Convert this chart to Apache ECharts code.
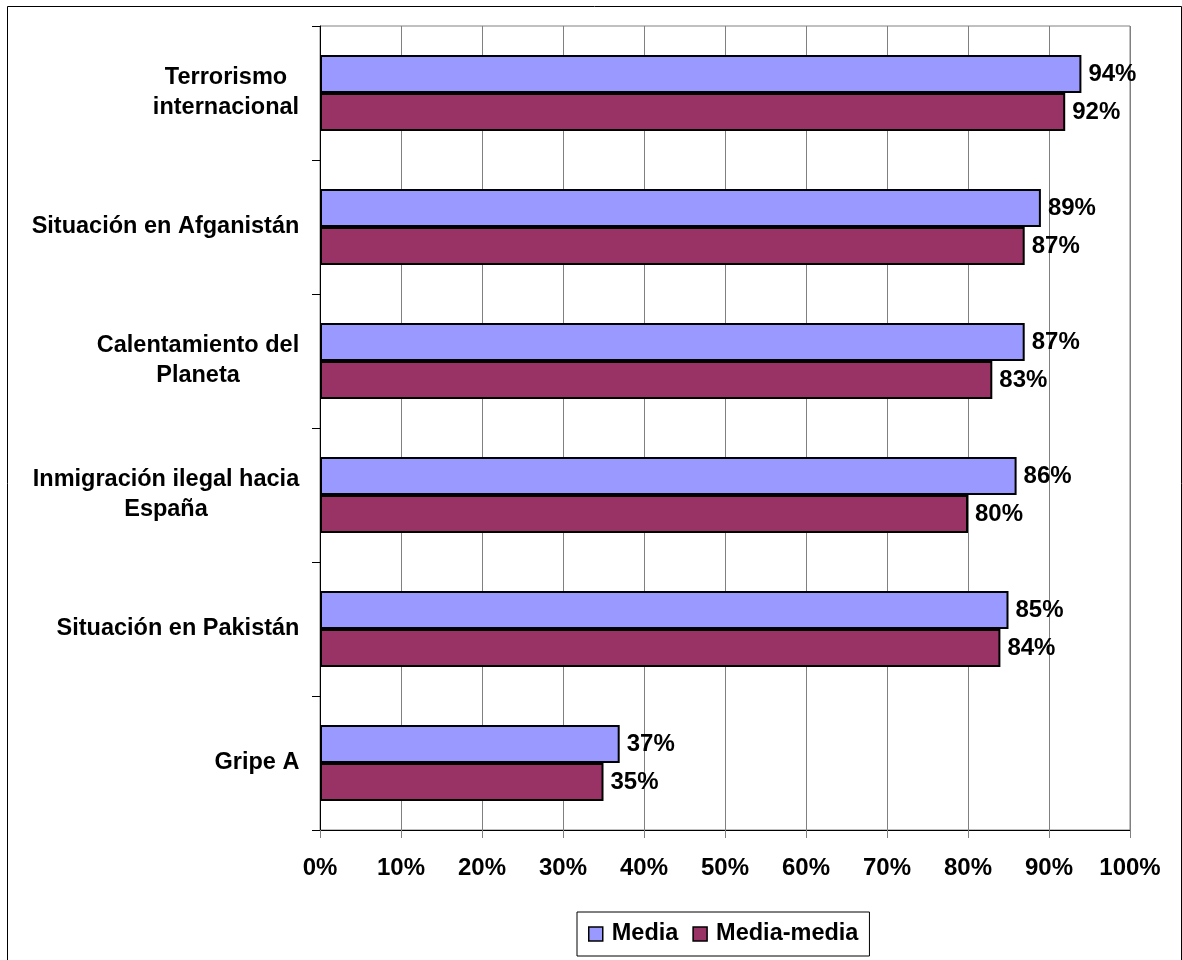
<!DOCTYPE html>
<html>
<head>
<meta charset="utf-8">
<script src="https://cdn.jsdelivr.net/npm/echarts@6/dist/echarts.min.js"></script>
<style>
html,body{margin:0;padding:0;background:#fff;}
#chart{width:1182px;height:960px;}
</style>
</head>
<body>
<div id="chart"></div>
<script>
const categories = [
  "Terrorismo\ninternacional",
  "Situación en Afganistán",
  "Calentamiento del\nPlaneta",
  "Inmigración ilegal hacia\nEspaña",
  "Situación en Pakistán",
  "Gripe A"
];
const seriesNames = ["Media", "Media-media"];
const mediaValues = [94, 89, 87, 86, 85, 37];
const mediaMediaValues = [92, 87, 83, 80, 84, 35];
const xTicks = [0, 10, 20, 30, 40, 50, 60, 70, 80, 90, 100];

const FONT = "Liberation Sans, Arial, sans-serif";
const FS_Y = 23.5;
const FS_V = 24;
const FS_L = 23.5;

// measure widths for centered multi-line labels
const cnv = document.createElement('canvas').getContext('2d');
cnv.font = "bold " + FS_Y + "px 'Liberation Sans'";
const rich = {};
categories.forEach((c, i) => {
  const w = Math.max(...c.split('\n').map(l => cnv.measureText(l).width));
  rich['c' + i] = {width: Math.ceil(w) + 1, align: 'center', fontSize: FS_Y, fontWeight: 'bold', fontFamily: FONT, color: '#000', lineHeight: 30};
});

const chart = echarts.init(document.getElementById('chart'));
chart.setOption({
  animation: false,
  backgroundColor: '#fff',
  graphic: [{
    type: 'rect', shape: {x: 7.5, y: 6.5, width: 1174, height: 980},
    style: {fill: 'none', stroke: '#000', lineWidth: 1}, silent: true, z: -10
  }],
  grid: {left: 320, right: 52, top: 26, bottom: 130, show: true, borderColor: '#808080', borderWidth: 1, backgroundColor: 'transparent'},
  legend: {
    data: seriesNames,
    left: 577, top: 912,
    orient: 'horizontal',
    borderColor: '#000', borderWidth: 1,
    padding: [10, 11, 10, 11],
    itemWidth: 14, itemHeight: 14, itemGap: 14,
    icon: 'rect',
    itemStyle: {borderColor: '#000', borderWidth: 1.5},
    textStyle: {fontSize: FS_L, fontWeight: 'bold', fontFamily: FONT, color: '#000', padding: [0, 0, 0, 4]}
  },
  xAxis: {
    type: 'value', min: 0, max: 100, interval: 10,
    axisLine: {show: true, lineStyle: {color: '#000', width: 1}},
    axisTick: {show: true, length: 8, lineStyle: {color: '#808080'}},
    splitLine: {show: true, lineStyle: {color: '#808080', width: 1}},
    axisLabel: {
      margin: 26, fontSize: FS_V, fontWeight: 'bold', fontFamily: FONT, color: '#000',
      formatter: v => xTicks.includes(v) ? v + '%' : ''
    }
  },
  yAxis: {
    type: 'category', data: categories, inverse: true,
    axisLine: {show: true, lineStyle: {color: '#000', width: 1}},
    axisTick: {show: true, length: 8, lineStyle: {color: '#000'}},
    splitLine: {show: false},
    axisLabel: {
      margin: 20,
      formatter: (v, i) => v.split('\n').map(l => '{c' + i + '|' + l + '}').join('\n'),
      rich: rich
    }
  },
  series: [
    {
      name: seriesNames[0], type: 'bar', data: mediaValues,
      barWidth: 38, barGap: '0%',
      itemStyle: {color: '#9999FF', borderColor: '#000', borderWidth: 2},
      label: {show: true, position: 'right', distance: 7, formatter: '{c}%', fontSize: FS_V, fontWeight: 'bold', fontFamily: FONT, color: '#000'}
    },
    {
      name: seriesNames[1], type: 'bar', data: mediaMediaValues,
      barWidth: 38, barGap: '0%',
      itemStyle: {color: '#993366', borderColor: '#000', borderWidth: 2},
      label: {show: true, position: 'right', distance: 7, formatter: '{c}%', fontSize: FS_V, fontWeight: 'bold', fontFamily: FONT, color: '#000'}
    }
  ]
});
</script>
</body>
</html>
